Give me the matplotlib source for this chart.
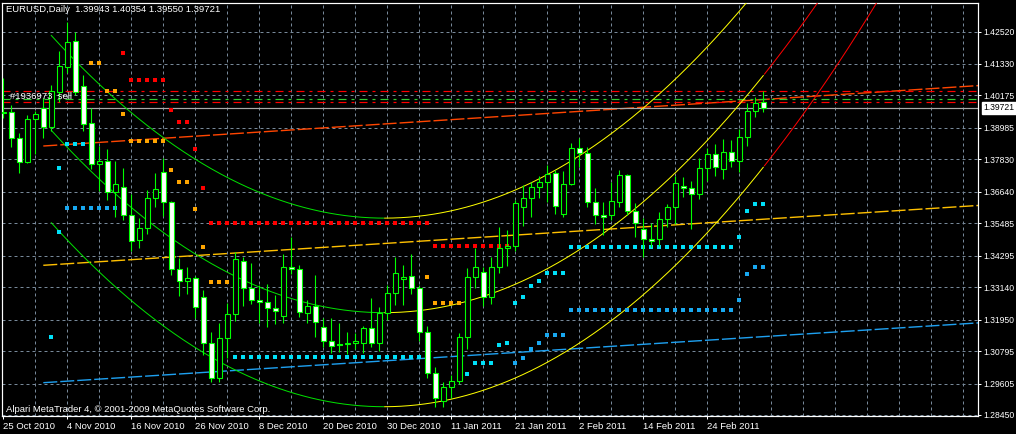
import numpy as np
import matplotlib
matplotlib.use('Agg')
import matplotlib.pyplot as plt
from matplotlib import transforms

plt.rcParams['font.family'] = ['Liberation Sans', 'DejaVu Sans']
plt.rcParams['lines.scale_dashes'] = False

# daily candles, EURUSD (bar 0 = 25 Oct 2010)
opens = [1.39530, 1.39556, 1.38602, 1.37743, 1.39299, 1.39702, 1.39005, 1.40311, 1.41236, 1.42161,
         1.40532, 1.39152, 1.37648, 1.37758, 1.36620, 1.36826, 1.35777, 1.34859, 1.35300, 1.36422,
         1.37354, 1.36254, 1.33795, 1.33355, 1.33465, 1.32768, 1.31080, 1.29818, 1.31264, 1.32144,
         1.34089, 1.33109, 1.32669, 1.32607, 1.32364, 1.32071, 1.33869, 1.33795, 1.32203, 1.32449,
         1.31667, 1.31176, 1.31044, 1.31044, 1.31080, 1.31102, 1.31631, 1.31080, 1.32203, 1.32915,
         1.33428, 1.33550, 1.33120, 1.31506, 1.30009, 1.28963, 1.29466, 1.29708, 1.31300, 1.33502,
         1.33707, 1.32790, 1.33869, 1.34566, 1.34650, 1.36092, 1.36400, 1.36804, 1.36987, 1.37318,
         1.35813, 1.36914, 1.38235, 1.38051, 1.36254, 1.35788, 1.35799, 1.36276, 1.37244, 1.35945,
         1.35263, 1.34896, 1.34896, 1.35630, 1.36070, 1.36863, 1.36767, 1.36547, 1.37501, 1.38015,
         1.37464, 1.38088, 1.37758, 1.38638, 1.39614, 1.39943]
highs = [1.40814, 1.39824, 1.38785, 1.39457, 1.39603, 1.40080, 1.40557, 1.41805, 1.42880, 1.42513,
         1.40924, 1.39724, 1.38330, 1.38209, 1.37769, 1.37501, 1.36547, 1.35667, 1.36705, 1.37318,
         1.37868, 1.36312, 1.34199, 1.33869, 1.33550, 1.33036, 1.31484, 1.31836, 1.32548, 1.34441,
         1.34258, 1.34015, 1.33219, 1.33245, 1.32852, 1.34357, 1.34991, 1.33953, 1.32669, 1.33586,
         1.32009, 1.31998, 1.31814, 1.31506, 1.31469, 1.31715, 1.32731, 1.32401, 1.33219, 1.34258,
         1.33953, 1.34357, 1.33219, 1.31715, 1.30222, 1.29649, 1.29917, 1.31447, 1.33832, 1.34566,
         1.33891, 1.34258, 1.35358, 1.35237, 1.36338, 1.36888, 1.37009, 1.37219, 1.37622, 1.37439,
         1.37413, 1.38440, 1.38602, 1.38294, 1.36789, 1.36254, 1.36987, 1.37439, 1.37281, 1.36217,
         1.35667, 1.35505, 1.35909, 1.36191, 1.37219, 1.37171, 1.37035, 1.37868, 1.38235, 1.38393,
         1.38565, 1.38539, 1.38932, 1.39908, 1.40128, 1.40354]
lows = [1.39347, 1.38294, 1.37318, 1.37696, 1.38026, 1.38624, 1.38870, 1.39934, 1.40987, 1.40190,
        1.38870, 1.37475, 1.36668, 1.36338, 1.35725, 1.35604, 1.34478, 1.34588, 1.35091, 1.36092,
        1.35762, 1.33586, 1.32827, 1.32878, 1.31998, 1.30651, 1.29671, 1.29671, 1.30530, 1.31910,
        1.32460, 1.32522, 1.31814, 1.31667, 1.31777, 1.31814, 1.33623, 1.32056, 1.31814, 1.31322,
        1.30955, 1.30735, 1.30772, 1.30688, 1.30860, 1.30713, 1.30933, 1.30787, 1.31935, 1.32486,
        1.32486, 1.32889, 1.31176, 1.29796, 1.28754, 1.28732, 1.29062, 1.29587, 1.30860, 1.33098,
        1.32449, 1.32522, 1.33649, 1.33927, 1.34478, 1.35384, 1.35725, 1.36400, 1.36276, 1.35824,
        1.35725, 1.36888, 1.37560, 1.36092, 1.35446, 1.35054, 1.35604, 1.36092, 1.35788, 1.34991,
        1.34258, 1.34625, 1.34650, 1.35358, 1.35457, 1.36459, 1.35285, 1.36364, 1.37046, 1.37219,
        1.37108, 1.37538, 1.37354, 1.38330, 1.39372, 1.39550]
closes = [1.39567, 1.38624, 1.37743, 1.39299, 1.39482, 1.39005, 1.40337, 1.41243, 1.42124, 1.40311,
          1.39137, 1.37648, 1.37769, 1.36620, 1.36914, 1.35777, 1.34823, 1.35300, 1.36422, 1.36731,
          1.36254, 1.33795, 1.33355, 1.33465, 1.32401, 1.31080, 1.29818, 1.31264, 1.32144, 1.34162,
          1.33098, 1.32658, 1.32607, 1.32364, 1.32254, 1.33869, 1.33795, 1.32218, 1.32449, 1.31873,
          1.31176, 1.30992, 1.31007, 1.31080, 1.31176, 1.31631, 1.31080, 1.32203, 1.32915, 1.33649,
          1.33513, 1.33098, 1.31506, 1.30009, 1.29062, 1.29466, 1.29708, 1.31300, 1.33502, 1.33869,
          1.32790, 1.33869, 1.34566, 1.34650, 1.36217, 1.36400, 1.36804, 1.36987, 1.37281, 1.36118,
          1.36925, 1.38235, 1.38051, 1.36254, 1.35799, 1.35703, 1.36301, 1.37244, 1.35945, 1.35505,
          1.34896, 1.34845, 1.35630, 1.36070, 1.36951, 1.36767, 1.36547, 1.37501, 1.38015, 1.37538,
          1.38088, 1.37758, 1.38638, 1.39603, 1.39886, 1.39721]

date_labels = ['25 Oct 2010', '4 Nov 2010', '16 Nov 2010', '26 Nov 2010', '8 Dec 2010',
               '20 Dec 2010', '30 Dec 2010', '11 Jan 2011', '21 Jan 2011', '2 Feb 2011',
               '14 Feb 2011', '24 Feb 2011']
price_ticks = [1.28450, 1.29605, 1.30795, 1.31950, 1.33140, 1.34295, 1.35485,
               1.36640, 1.37830, 1.38985, 1.40175, 1.41330, 1.42520]

# linear channel (bar, price) end points
chan_bars = [5, 122]
chan_top = [1.38319, 1.40538]
chan_mid = [1.33942, 1.36140]
chan_bot = [1.29635, 1.31832]

# parabolic channel, points
para_up_bars = [5.96, 24.59, 35.84, 47.59, 59.59, 72.09, 83.96]
para_up_vals = [1.42392, 1.37743, 1.36180, 1.35641, 1.36276, 1.37989, 1.40741]
para_mid_bars = [5.96, 24.59, 47.59, 68.79, 84.59]
para_mid_vals = [1.38906, 1.34254, 1.32196, 1.33953, 1.37501]
para_low_bars = [5.96, 24.59, 47.59, 54.59, 84.59, 95.0]
para_low_vals = [1.35520, 1.30805, 1.28743, 1.28978, 1.34074, 1.37560]

# order levels
sl_level = 1.40348
open_level = 1.40033
tp_level = 1.39923
bid = 1.39721

# dot runs: (first bar, last bar, price)
red_runs = [(15, 15, 1.41720), (16, 20, 1.40730), (21, 21, 1.39640), (22, 23, 1.39189),
            (24, 24, 1.38220), (25, 25, 1.36767), (26, 53, 1.35483), (54, 63, 1.34661)]
orange_runs = [(11, 12, 1.41353), (13, 14, 1.40337), (15, 15, 1.39482), (16, 20, 1.38492),
               (21, 21, 1.37428), (22, 23, 1.36987), (24, 24, 1.35997), (25, 25, 1.34602),
               (26, 28, 1.33318), (53, 53, 1.33524), (54, 57, 1.32548)]
aqua_runs = [(7, 7, 1.37501), (7, 7, 1.35175), (6, 6, 1.31300), (8, 10, 1.38382),
             (29, 52, 1.30589), (58, 58, 1.29943), (59, 61, 1.30347), (62, 62, 1.31018),
             (63, 63, 1.31080), (64, 64, 1.32577), (65, 65, 1.32768), (66, 66, 1.33183),
             (67, 67, 1.33359), (68, 70, 1.33648), (71, 91, 1.34602), (92, 92, 1.34969),
             (93, 93, 1.35923), (94, 95, 1.36180)]
blue_runs = [(8, 14, 1.36033), (64, 64, 1.30347), (65, 65, 1.30530), (66, 66, 1.30889),
             (67, 67, 1.31080), (68, 70, 1.31374), (71, 91, 1.32291), (92, 92, 1.32669),
             (93, 93, 1.33612), (94, 95, 1.33869)]

W, H = 1016, 434
fig = plt.figure(figsize=(W / 100, H / 100), dpi=100, facecolor='black')
ax = fig.add_axes([2 / W, (H - 416) / H, 976 / W, 413 / H])
ax.set_facecolor('black')
ax.set_xlim(-0.1625, 121.8375)
ax.set_ylim(1.28413, 1.43566)

px = 0.72  # one pixel in points
grid_col = '#778899'
for p in price_ticks:
    ax.axhline(p, color=grid_col, lw=px, dashes=(3 * px, 3 * px), zorder=0)
for b in range(4, 122, 4):
    ax.axvline(b, color=grid_col, lw=px, dashes=(3 * px, 3 * px), zorder=0)

# linear channel
for vals, col in [(chan_top, '#FF4500'), (chan_mid, '#FFC000'), (chan_bot, '#1EA0F0')]:
    ax.plot(chan_bars, vals, color=col, lw=1.4 * px, dashes=(14 * px, 3 * px), zorder=2)

# parabolic channel
last_bar = len(closes) - 1
for bx, vy in [(para_up_bars, para_up_vals), (para_mid_bars, para_mid_vals),
               (para_low_bars, para_low_vals)]:
    c = np.polyfit(bx, vy, 2)
    vertex = -c[1] / (2 * c[0])
    xs = np.linspace(6, 122, 800)
    ys = np.polyval(c, xs)
    for lo, hi, col in [(6, vertex, '#00E000'), (vertex, last_bar, '#FFFF00'), (last_bar, 122, '#FF0000')]:
        m = (xs >= lo) & (xs <= hi)
        ax.plot(xs[m], ys[m], color=col, lw=px, zorder=3)

# order lines
dd = (8 * px, 5 * px, 3 * px, 5 * px)
ax.axhline(sl_level, color='#FF0000', lw=1.2 * px, dashes=dd, zorder=2)
ax.axhline(open_level, color='#32CD32', lw=1.2 * px, dashes=dd, zorder=2)
ax.axhline(tp_level, color='#FF0000', lw=1.2 * px, dashes=dd, zorder=2)
ax.axhline(bid, color='#A8A8A8', lw=1.2 * px, zorder=2)

# dots
for runs, col in [(red_runs, '#FF0000'), (orange_runs, '#FFA500'),
                  (aqua_runs, '#00E0F8'), (blue_runs, '#18A8F0')]:
    bx, by = [], []
    for a, b, p in runs:
        for k in range(a, b + 1):
            bx.append(k)
            by.append(p)
    ax.plot(bx, by, 's', color=col, ms=3.4 * px, mew=0, zorder=4)

# candles
o = np.array(opens)
c_ = np.array(closes)
idx = np.arange(len(o))
ax.vlines(idx, lows, highs, color='#00FF00', lw=1.1 * px, zorder=5)
body_lo = np.minimum(o, c_)
body_h = np.maximum(np.abs(c_ - o), 0.00004)
face = ['black' if cc > oo else 'white' for oo, cc in zip(o, c_)]
ax.bar(idx, body_h, bottom=body_lo, width=0.6, color=face, edgecolor='#00FF00',
       linewidth=1.1 * px, zorder=6)

# axes styling
for s in ax.spines.values():
    s.set_color('white')
    s.set_linewidth(1.2 * px)
ax.set_xticks(range(0, 8 * len(date_labels), 8))
ax.set_xticklabels(date_labels)
for t in ax.get_xticklabels():
    t.set_ha('left')
ax.tick_params(axis='x', colors='white', labelsize=6.8, length=3 * px, width=px, pad=2)
ax.yaxis.tick_right()
ax.set_yticks(price_ticks)
ax.set_yticklabels(['%.5f' % p for p in price_ticks])
ax.tick_params(axis='y', colors='white', labelsize=6.2, length=3 * px, width=px, pad=1.5)

# bid price box
tr = transforms.blended_transform_factory(ax.transAxes, ax.transData)
ax.text(1.0055, bid, '%.5f' % bid, transform=tr, color='black', fontsize=6.2, va='center',
        ha='left', bbox=dict(boxstyle='square,pad=0.15', fc='white', ec='white'), zorder=10,
        clip_on=False)

# texts
ax.text(8 / 976, 1.39923 + 0.0004, '#1936973  sell', color='white', fontsize=6.8,
        transform=tr, va='bottom', ha='left', zorder=7)
fig.text(6 / W, 1 - 10 / H, 'EURUSD,Daily  1.39943 1.40354 1.39550 1.39721', color='white',
         fontsize=6.8, va='center', ha='left')
fig.text(6 / W, 1 - 409 / H, 'Alpari MetaTrader 4, \u00a9 2001-2009 MetaQuotes Software Corp.',
         color='white', fontsize=6.8, va='center', ha='left')

fig.savefig('out.png', dpi=100, facecolor='black')
